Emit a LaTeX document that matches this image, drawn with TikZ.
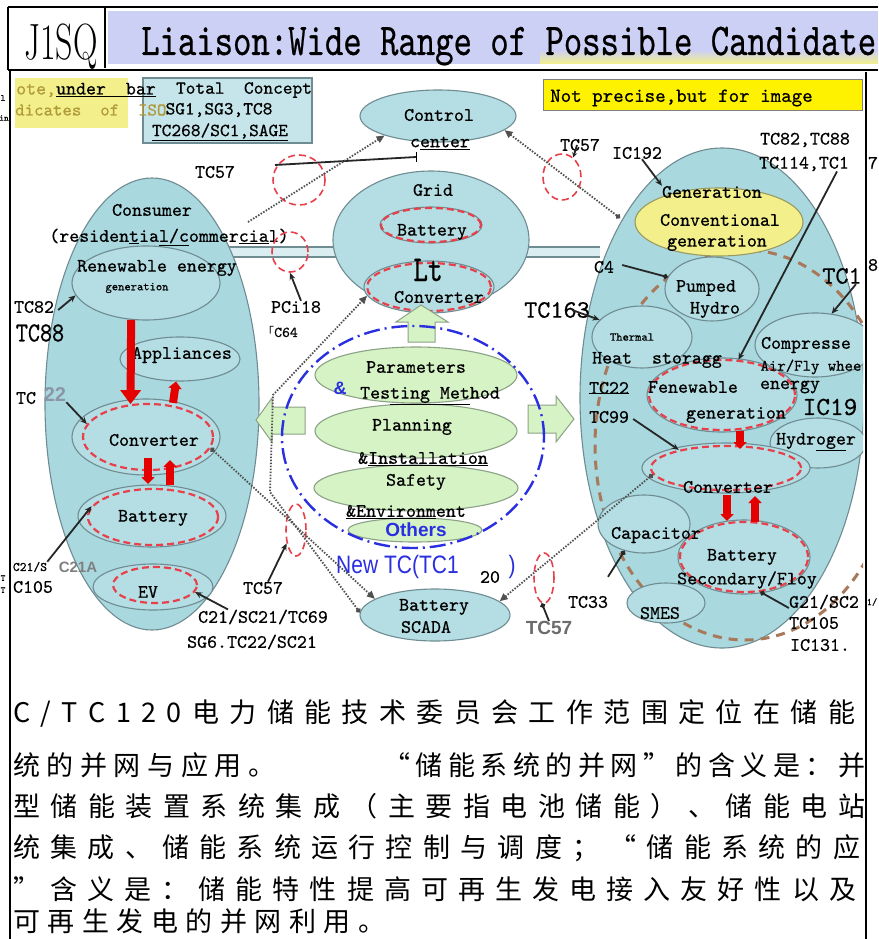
\documentclass[tikz,border=0pt]{standalone}
\usepackage{fontspec}
\usepackage{graphicx}
\newfontfamily\cjk{Noto Sans CJK SC}
\newfontfamily\lsans{Liberation Sans}
\newfontfamily\mono{lmmono10-regular.otf}[FakeBold=0.6]
\usetikzlibrary{shapes.geometric,arrows.meta}
\definecolor{lblue}{HTML}{B4DEE3}
\definecolor{bigblue}{HTML}{A9D8DE}
\definecolor{bgray}{HTML}{6F8C92}
\definecolor{rdc}{HTML}{E8404A}
\definecolor{brn}{HTML}{A8785A}
\definecolor{lgreen}{HTML}{D6F3C6}
\definecolor{ggray}{HTML}{8CA286}
\definecolor{dblue}{HTML}{2A2FE0}
\definecolor{olive}{HTML}{B09A3A}
\definecolor{lyel}{HTML}{F3F08C}
\definecolor{ygray}{HTML}{9A9A60}
\definecolor{band}{HTML}{CDD0F5}
\definecolor{boxblue}{HTML}{C6E5EA}
\definecolor{dotc}{HTML}{505050}
\definecolor{stgray}{HTML}{8A96A8}
\ExplSyntaxOn
\NewDocumentCommand\spreadline{mm}{\hbox_to_wd:nn{#1}{\tl_map_inline:nn{#2}{##1\hfil}\unskip}}
\ExplSyntaxOff
\begin{document}
\begin{tikzpicture}[x=1pt,y=-1pt,
  lbl/.style={font=\mono\fontsize{19}{20}\selectfont, inner sep=0pt},
  sm/.style={font=\mono\fontsize{12}{12}\selectfont, inner sep=0pt},
  big/.style={font=\mono\fontsize{25}{25}\selectfont, inner sep=0pt},
  bell/.style={ellipse, draw=bgray, fill=lblue, line width=1.1pt, inner sep=0pt},
  rell/.style={ellipse, draw=rdc, dash pattern=on 7pt off 4pt, line width=2.2pt, inner sep=0pt},
  gell/.style={ellipse, draw=ggray, fill=lgreen, line width=1.1pt, inner sep=0pt},
  dotl/.style={draw=dotc, line width=1.8pt, dash pattern=on 1.5pt off 1.5pt},
  ptr/.style={draw=black!85, line width=1.8pt, -{Stealth[length=7pt,width=6pt]}},
  bdot/.style={draw=black!85, line width=1.8pt, -{Circle[length=5pt]}},
  redarr/.style={draw=red!90!black, line width=8pt, -{Triangle[length=14pt,width=20pt]}},
  redsm/.style={draw=red!90!black, line width=8pt, -{Triangle[length=7pt,width=13pt]}},
  garrow/.style={draw=ggray, fill=lgreen, line width=1pt},
  cjkline/.style={font=\cjk\fontsize{27}{27}\selectfont, inner sep=0pt, anchor=west},
]
\useasboundingbox (0,0) rectangle (878,939);
\fill[white] (0,0) rectangle (878,939);

% ---------- header ----------
\fill[band] (108,11) rectangle (878,64);
\shade[top color=band, bottom color=lyel] (540,50) rectangle (878,64);
\draw[line width=1.2pt] (8,7) -- (878,7);
\draw[line width=1.2pt] (8,7) -- (8,70);
\draw[line width=1.2pt] (105,7) -- (105,68);
\draw[line width=1.5pt] (8,70) -- (878,70);
\draw[line width=1.5pt] (10,70) -- (10,939);
\draw[line width=2pt] (866,72) -- (866,939);
\node[anchor=base west, inner sep=0pt, font=\rmfamily\fontsize{34}{34}\selectfont] (j1sq) at (24,60) {\scalebox{1}[1.5]{J1SQ}};
\node[anchor=base west, inner sep=0pt, font=\mono\fontsize{35}{35}\selectfont] (title) at (141,55) {\scalebox{1}[1.3]{Liaison:Wide Range of Possible Candidate}};

% fragments outside the panel
\node[font=\mono\fontsize{9}{9}\selectfont, inner sep=0pt] at (3,98) {l};
\node[font=\mono\fontsize{9}{9}\selectfont, inner sep=0pt] at (4,118) {in};
\node[font=\mono\fontsize{9}{9}\selectfont, inner sep=0pt] at (3,578) {T};
\node[font=\mono\fontsize{9}{9}\selectfont, inner sep=0pt] at (3,590) {T};
\node[lbl] at (873,163) {7};
\node[lbl] at (873,265) {8};
\node[font=\mono\fontsize{10}{10}\selectfont, inner sep=0pt] at (872,602) {1/};

\begin{scope}
\clip (11,72) rectangle (863,700);

% ---------- top boxes ----------
\draw[bgray, fill=boxblue, line width=1.5pt] (143,78) rectangle (312,143);
\fill[lyel] (15,78) rectangle (128,128);
\node[lbl, anchor=west, text=olive] (note1) at (16,90) {ote,\textcolor{black}{\underline{under~~bar}}};
\node[lbl, anchor=west, text=olive, font=\mono\fontsize{18}{18}\selectfont] (note2) at (15,110) {dicates~~of~~ISO};
\node[lbl, font=\mono\fontsize{18.5}{18.5}\selectfont] (tot1) at (244,90) {Total~~Concept};
\node[lbl, font=\mono\fontsize{18.5}{18.5}\selectfont] (tot2) at (219,110) {SG1,SG3,TC8};
\node[lbl, font=\mono\fontsize{18.5}{18.5}\selectfont] (tot3) at (220,132) {\underline{TC268/SC1,SAGE}};
\draw[gray, fill=yellow, line width=1pt] (543,80) rectangle (862,111);
\node[lbl, anchor=west, font=\mono\fontsize{20}{20}\selectfont] (notp) at (550,98) {Not precise,but for image};

% ---------- bus ----------
\fill[lblue!50] (220,247) rectangle (600,257);
\draw[bgray, line width=1.2pt] (220,247) -- (600,247) (220,257) -- (600,257);

% ---------- big ellipses ----------
\node[bell, fill=bigblue, minimum width=214pt, minimum height=452pt] (cons) at (152,404) {};
\node[bell, fill=bigblue, minimum width=284pt, minimum height=500pt] (prod) at (722,398) {};
\node[ellipse, draw=brn, dash pattern=on 9pt off 7pt, line width=3pt, minimum width=300pt, minimum height=390pt, inner sep=0pt] (renz) at (745,445) {};

% ---------- control centre & grid ----------
\node[bell, minimum width=156pt, minimum height=52pt] (ctrl) at (438,116) {};
\node[lbl] (ctrl1) at (439,115) {Control};
\node[lbl] (ctrtxt) at (440,143) {c\underline{enter}};
\node[bell, minimum width=196pt, minimum height=138pt] (grid) at (431,240) {};
\node[lbl] (gridt) at (433,190) {Grid};
\node[bell, minimum width=102pt, minimum height=36pt] (gbat) at (431,225) {};
\node[rell, minimum width=100pt, minimum height=34pt] (gbatr) at (431,225) {};
\node[lbl] (gbatt) at (432,232) {Battery};
\node[bell, minimum width=130pt, minimum height=52pt] (gconv) at (429,287) {};
\node[rell, minimum width=124pt, minimum height=48pt] (gconvr) at (429,287) {};
\node[inner sep=0pt, font=\mono\fontsize{28}{28}\selectfont] (lt) at (428,270) {\scalebox{1}[1.3]{Lt}};
\node[lbl] (gconvt) at (439,297) {Converter};

% ---------- consumer side ----------
\node[lbl] (constxt) at (152,210) {Consumer};
\node[lbl] (restxt) at (169,237) {(residen\underline{t}ia\underline{l/c}ommer\underline{cia}l)};
\node[bell, minimum width=148pt, minimum height=74pt] (renl) at (146,283) {};
\node[lbl] (renlt) at (157,268) {Renewable energy};
\node[sm] (renlg) at (137,288) {generation};
\node[bell, minimum width=120pt, minimum height=44pt] (appl) at (180,359) {};
\node[lbl] (applt) at (182,355) {Appliances};
\node[bell, minimum width=148pt, minimum height=76pt] (convl) at (146,437) {};
\node[rell, minimum width=130pt, minimum height=66pt] (convlr) at (148,437) {};
\node[lbl] (convlt) at (154,440) {Converter};
\node[bell, minimum width=148pt, minimum height=62pt] (batl) at (152,516) {};
\node[rell, minimum width=130pt, minimum height=56pt] (batlr) at (153,517) {};
\node[lbl] (batlt) at (153,518) {Battery};
\node[bell, minimum width=120pt, minimum height=46pt] (evl) at (153,587) {};
\node[rell, minimum width=84pt, minimum height=36pt] (evr) at (155,585) {};
\node[lbl] (evt) at (148,592) {EV};

\draw[redarr] (renl.-112) -- (convlr.118);
\draw[redsm] (appl.south |- convlr.north) ++(-7,0) coordinate (ua) -- (appl.-100);
\draw[redsm] (148,458) coordinate (da1) -- (148,484) coordinate (da2);
\draw[redsm] (170,485) coordinate (ub1) -- (170,460) coordinate (ub2);

\node[lbl] (tc82) at (34,307) {TC82};
\node[inner sep=0pt, font=\mono\fontsize{23}{23}\selectfont] (tc88) at (40,333) {\scalebox{1}[1.2]{TC88}};
\draw[ptr] ([xshift=4pt,yshift=-3pt]tc82.east) -- (renl.190);
\node[lbl] (tc22l) at (26,398) {TC};
\node[inner sep=0pt, font=\lsans\bfseries\fontsize{20}{20}\selectfont, text=stgray] (tc22n) at (55,395) {22};
\draw[ptr] (tc22n.south east) -- (convlr.168);
\node[inner sep=0pt, font=\mono\fontsize{13}{13}\selectfont] (c21s) at (30,567) {C21/S};
\node[inner sep=0pt, font=\lsans\bfseries\fontsize{15}{15}\selectfont, text=gray] (c21a) at (78,567) {C21A};
\node[lbl] (c105) at (33,587) {C105};
\draw[ptr] (c21s.north east) -- (batlr.170);
\node[lbl] (c21sc) at (263,617) {C21/SC21/TC69};
\node[lbl] (sg6) at (252,642) {SG6.TC22/SC21};
\draw[ptr] ([xshift=30pt]c21sc.north west) -- (evr.-10);

% red dashed markers near connectors
\node[rell, line width=1.6pt, minimum width=52pt, minimum height=50pt] (rc1) at (299,180) {};
\node[rell, line width=1.6pt, minimum width=36pt, minimum height=40pt] (rc2) at (290,252) {};
\node[rell, line width=1.6pt, minimum width=38pt, minimum height=46pt] (rcr) at (562,177) {};
\node[rell, line width=1.6pt, minimum width=20pt, minimum height=52pt] (rc4) at (296,530) {};
\node[rell, line width=1.6pt, minimum width=20pt, minimum height=50pt] (rc5) at (544,578) {};

\node[lbl] (tc57a) at (215,172) {TC57};
\coordinate (la1) at (275,165);
\coordinate (la2) at (416,157);
\draw[line width=1.8pt, black!85] (la1) -- (la2);
\draw[line width=1pt] (la2) ++(0,-5) -- ++(0,10);
\coordinate (lt1) at (248,222);
\draw[dotl, -{Triangle[length=8pt,width=7pt]}] (lt1) -- (ctrl.200);
\node[lbl] (pci) at (296,307) {PCi18};
\draw[ptr] ([xshift=5pt]pci.north) -- (rc2.south);
\node[inner sep=0pt, font=\mono\fontsize{15}{15}\selectfont] (c64) at (280,332) {{\cjk\fontsize{12}{12}\selectfont 「}C64};
\node[lbl] (tc57b) at (263,588) {TC57};
\draw[ptr] ([xshift=5pt]tc57b.north) -- (rc4.235);

% ---------- centre (new TC) ----------
\node[gell, minimum width=134pt, minimum height=24pt] (oth) at (415,530) {};
\node[gell, minimum width=204pt, minimum height=46pt] (saf) at (416,488) {};
\node[gell, minimum width=202pt, minimum height=54pt] (plan) at (416,431) {};
\node[gell, minimum width=202pt, minimum height=56pt] (par) at (416,375) {};
\draw[garrow] (408,342) -- (408,322) -- (396,322) -- (421,305) -- (448,322) -- (435,322) -- (435,342) -- cycle;
\draw[garrow] (305,407) -- (272,407) -- (272,398) -- (256,420) -- (272,442) -- (272,434) -- (305,434) -- cycle;
\draw[garrow] (528,405) -- (556,405) -- (556,396) -- (574,419) -- (556,442) -- (556,433) -- (528,433) -- cycle;
\node[ellipse, draw=dblue, dash pattern=on 16pt off 5pt on 2pt off 5pt, line width=2.4pt, minimum width=262pt, minimum height=222pt, inner sep=0pt] (newtc) at (413,437) {};
\node[lbl] (part) at (416,367) {Parameters};
\node[inner sep=0pt, font=\lsans\bfseries\fontsize{18}{18}\selectfont, text=dblue] (amp) at (340,388) {\&};
\node[lbl] (testt) at (430,396) {Tes\underline{ting Met}hod};
\node[lbl] (plant) at (412,427) {Planning};
\node[lbl] (instt) at (423,459) {\&\underline{Installation}};
\node[lbl] (saft) at (416,482) {Safety};
\node[lbl] (envt) at (406,512) {\underline{\&Environm}ent};
\node[inner sep=0pt, font=\lsans\bfseries\fontsize{19}{19}\selectfont, text=dblue] (otht) at (416,530) {Others};
\node[anchor=west, inner sep=0pt, font=\lsans\fontsize{21}{21}\selectfont, text=dblue] (ntc) at (336,567) {\scalebox{1}[1.2]{New TC(TC1}};
\node[inner sep=0pt, font=\lsans\fontsize{21}{21}\selectfont, text=dblue] (ntc2) at (512,567) {\scalebox{1}[1.2]{)}};
\node[lbl] (n20) at (490,577) {20};

\node[bell, minimum width=150pt, minimum height=52pt] (scada) at (435,615) {};
\node[lbl] (scadat1) at (434,607) {Battery};
\node[lbl] (scadat2) at (426,627) {SCADA};

\coordinate (kb1) at (270,492);
\coordinate (kb2) at (273,395);
\draw[dotl, {Circle[length=5pt]}-{Triangle[length=8pt,width=7pt]}] (convlr.-10) -- (scada.165);
\draw[dotl, {Circle[length=5pt]}-{Triangle[length=8pt,width=7pt]}] (scada.178) -- (kb1) -- (kb2) -- (gconv.188);

% ---------- production side ----------
\node[ellipse, draw=ygray, fill=lyel, line width=1.1pt, minimum width=168pt, minimum height=68pt, inner sep=0pt] (conv) at (719,222) {};
\node[lbl] (gentxt) at (712,192) {Generation};
\node[lbl] (convt) at (720,220) {Conventional};
\node[lbl] (convt2) at (717,243) {generation};
\node[bell, minimum width=94pt, minimum height=64pt] (pump) at (712,289) {};
\node[lbl] (pumpt) at (706,288) {Pumped};
\node[lbl] (pumpt2) at (715,310) {Hydro};
\node[bell, minimum width=100pt, minimum height=62pt] (therm) at (642,337) {};
\node[sm] (thermt) at (632,337) {Thermal};
\node[bell, minimum width=120pt, minimum height=64pt] (comp) at (815,345) {};
\node[lbl] (compt) at (806,345) {Compresse};
\node[bell, minimum width=96pt, minimum height=50pt] (hyd) at (818,443) {};
\node[bell, minimum width=150pt, minimum height=74pt] (reng) at (722,395) {};
\node[rell, minimum width=146pt, minimum height=70pt] (rengr) at (722,395) {};
\node[lbl, font=\mono\fontsize{16}{17}\selectfont] (compt2) at (811,367) {Air/Fly whee};
\node[lbl] (heatt) at (657,360) {Heat~~storagg};
\node[lbl] (rengt1) at (693,387) {Fenewable};
\node[lbl] (rengt2) at (790,387) {energy};
\node[lbl] (rengt3) at (736,415) {generation};
\node[lbl] (hydt) at (816,442) {Hydr\underline{oge}r};
\node[bell, minimum width=168pt, minimum height=50pt] (convr) at (726,468) {};
\node[rell, minimum width=150pt, minimum height=44pt] (convrr) at (726,468) {};
\node[lbl] (convrt) at (728,487) {Converter};
\node[bell, minimum width=92pt, minimum height=58pt] (capa) at (644,524) {};
\node[bell, minimum width=132pt, minimum height=74pt] (batr) at (744,557) {};
\node[rell, minimum width=128pt, minimum height=70pt] (batrr) at (744,557) {};
\node[lbl] (capat) at (656,535) {Capacitor};
\node[lbl] (batrt) at (742,557) {Battery};
\node[lbl] (batrt2) at (747,580) {Secondary/Floy};
\node[bell, minimum width=78pt, minimum height=40pt] (smes) at (666,603) {};
\node[lbl] (smest) at (660,613) {SMES};

\draw[redsm] (740,431) -- (740,449);
\draw[redsm] (727,495) -- (727,521);
\draw[redsm] (755,522) -- (755,496);

\coordinate (rt1) at (620,218);
\draw[dotl, {Circle[length=5pt]}-{Triangle[length=8pt,width=7pt]}] (rt1) -- (ctrl.-12);
\draw[dotl, {Circle[length=5pt]}-{Triangle[length=8pt,width=7pt]}] (convrr.185) -- (scada.12);

\node[lbl] (tc57r) at (580,145) {TC57};
\draw[ptr, -{Stealth[length=5pt,width=5pt]}] ([xshift=-3pt]tc57r.center) -- (rcr.60);
\node[lbl] (ic192) at (637,153) {IC192};
\draw[ptr] ([xshift=5pt]ic192.south) -- (gentxt.north west);
\node[lbl] (tc82r) at (805,140) {TC82,TC88};
\node[lbl] (tc114) at (804,164) {TC114,TC1};
\draw[ptr] ([xshift=33pt]tc114.south) -- (rengr.65);
\node[big] (tc1) at (842,276) {TC1};
\draw[ptr] ([xshift=14pt]tc1.south) -- (comp.62);
\node[lbl] (c4) at (604,267) {C4};
\draw[bdot] ([xshift=8pt,yshift=2pt]c4.east) -- (pump.165);
\node[big] (tc163) at (557,310) {TC163};
\draw[ptr] ([xshift=-18pt]tc163.east) -- (therm.158);
\node[lbl] (tc22r) at (609,388) {TC22};
\draw[line width=1pt] (tc22r.west |- 0,393) -- (tc22r.east |- 0,393);
\node[lbl] (tc99) at (609,417) {TC99};
\draw[ptr] ([xshift=4pt,yshift=-2pt]tc99.east) -- (convrr.159);
\node[big, font=\mono\fontsize{26}{26}\selectfont] (ic19) at (830,407) {IC19};
\node[lbl] (tc33) at (588,602) {TC33};
\draw[bdot] ([xshift=20pt,yshift=19pt]tc33.north) -- (capa.234);
\node[lbl] (g21) at (824,602) {G21/SC2};
\node[lbl] (tc105) at (814,623) {TC105};
\node[lbl] (ic131) at (820,645) {IC131.};
\draw[bdot] ([yshift=-6pt]g21.west) -- (batrr.-65);
\node[inner sep=0pt, font=\lsans\bfseries\fontsize{19}{19}\selectfont, text=gray!85!black] (tc57c) at (549,628) {TC57};
\draw[bdot] (tc57c.north) -- (rc5.-95);
\end{scope}

% ---------- Chinese text ----------
\node[cjkline] (l1) at (13,713) {\spreadline{842pt}{C/TC120电力储能技术委员会工作范围定位在储能}};
\node[cjkline] (l2a) at (13,765) {\spreadline{262pt}{统的并网与应用。}};
\node[cjkline] (l2b) at (383,765) {\spreadline{482pt}{“储能系统的并网”的含义是：并}};
\node[cjkline] (l3) at (13,806) {\spreadline{852pt}{型储能装置系统集成（主要指电池储能）、储能电站}};
\node[cjkline] (l4) at (13,848) {\spreadline{847pt}{统集成、储能系统运行控制与调度；“储能系统的应}};
\node[cjkline] (l5) at (13,889) {\spreadline{843pt}{”含义是：储能特性提高可再生发电接入友好性以及}};
\node[cjkline] (l6) at (13,921) {\spreadline{372pt}{可再生发电的并网利用。}};
\end{tikzpicture}
\end{document}
